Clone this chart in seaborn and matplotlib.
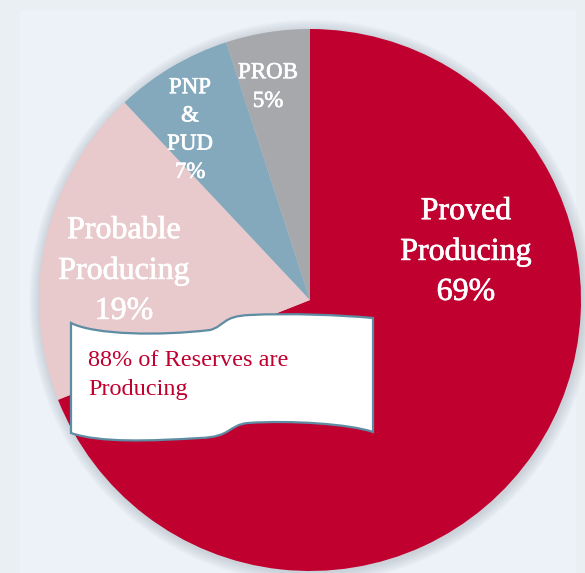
import numpy as np
import matplotlib
matplotlib.use("Agg")
import matplotlib.pyplot as plt
import matplotlib.patheffects as pe
import seaborn as sns
from matplotlib.patches import Circle, PathPatch, Rectangle
from matplotlib.path import Path

# ---- data ----
categories = ["Proved Producing", "Probable Producing", "PNP & PUD", "PROB"]
shares = [69, 19, 7, 5]
slice_labels = ["Proved\nProducing\n69%", "Probable\nProducing\n19%", "PNP\n&\nPUD\n7%", "PROB\n5%"]
callout_text = "88% of Reserves are\nProducing"

palette = ["#C0002F", "#E8C9CC", "#84A9BC", "#A7A8AC"]

sns.set_theme(style="white")
plt.rcParams['font.family'] = ['Liberation Serif', 'DejaVu Serif']

W, H = 585, 573
fig = plt.figure(figsize=(W / 100, H / 100), dpi=100)
fig.patch.set_facecolor("#EAEFF3")
ax = fig.add_axes([0, 0, 1, 1])
ax.set_facecolor("#EAEFF3")

cx, cy, R = 310, 300, 271  # pixel geometry

def px(x, y):
    return ((x - cx) / R, (cy - y) / R)

# inner background panel
x0, y0 = px(20, 10)
x1, y1 = px(576, 573)
ax.add_patch(Rectangle((x0, y1), x1 - x0, y0 - y1, facecolor="#EDF2F9", edgecolor="none", zorder=0))

# soft shadow
for i in range(10):
    ax.add_patch(Circle((0.004, -0.006), 1.0 + 0.004 * (10 - i), facecolor="#8E969C",
                        edgecolor="none", alpha=0.035, zorder=1))

wedges, _ = ax.pie(shares, colors=palette, startangle=90, counterclock=False,
                   radius=1.0, center=(0, 0), frame=True,
                   wedgeprops=dict(linewidth=0, zorder=2))
for w in wedges:
    w.set_zorder(2)
ax.set_xlim(-cx / R, (W - cx) / R)
ax.set_ylim(-(H - cy) / R, cy / R)
ax.set_aspect("auto")
ax.axis("off")

# slice labels
label_pos = [px(466, 252), px(124, 271), px(190, 130), px(268, 87)]
label_size = [23, 23, 16.5, 16.5]
label_ls = [1.5, 1.5, 1.45, 1.48]
for txt, (lx, ly), fs, ls in zip(slice_labels, label_pos, label_size, label_ls):
    ax.text(lx, ly, txt, ha="center", va="center", color="white", fontsize=fs,
            linespacing=ls, zorder=5,
            path_effects=[pe.withStroke(linewidth=0.5, foreground="white")])

# banner callout
pts = [
    (71, 323),
    (95, 335), (160, 336), (210, 330),
    (225, 326), (222, 316), (250, 315),
    (290, 313), (340, 315), (373, 318),
    (373, 432),
    (350, 424), (290, 420), (248, 423),
    (228, 425), (232, 437), (200, 438),
    (150, 441), (100, 443), (71, 433),
    (71, 323),
]
codes = [Path.MOVETO,
         Path.CURVE4, Path.CURVE4, Path.CURVE4,
         Path.CURVE4, Path.CURVE4, Path.CURVE4,
         Path.CURVE4, Path.CURVE4, Path.CURVE4,
         Path.LINETO,
         Path.CURVE4, Path.CURVE4, Path.CURVE4,
         Path.CURVE4, Path.CURVE4, Path.CURVE4,
         Path.CURVE4, Path.CURVE4, Path.CURVE4,
         Path.CLOSEPOLY]
verts = [px(x, y) for x, y in pts]
ax.add_patch(PathPatch(Path(verts, codes), facecolor="white", edgecolor="#5E8CA3",
                       linewidth=1.6, zorder=6))
tx, ty = px(88, 375)
ax.text(tx, ty, callout_text, ha="left", va="center", color="#C0002F", fontsize=17.5,
        linespacing=1.55, zorder=7)

fig.savefig("out.png", dpi=100, facecolor=fig.get_facecolor())
